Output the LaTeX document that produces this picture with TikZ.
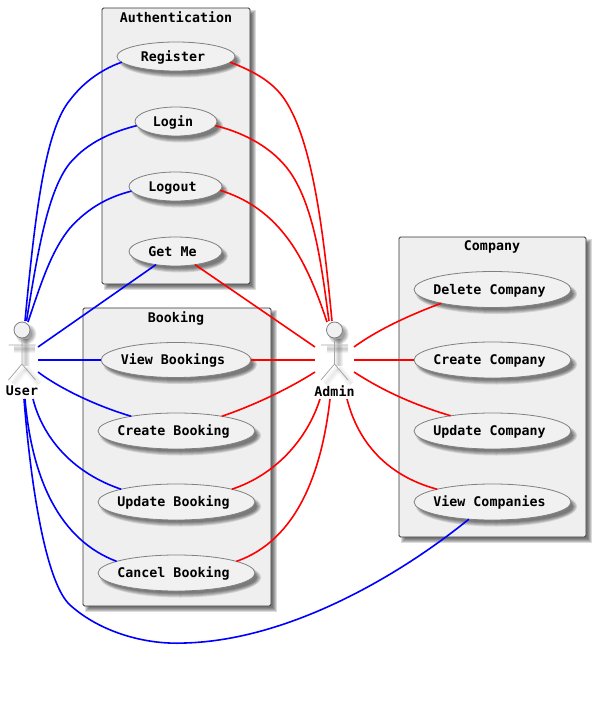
\documentclass[tikz,border=0pt]{standalone}
\usepackage{fontspec}
\usetikzlibrary{shapes.geometric}
\setmonofont{DejaVu Sans Mono}
\definecolor{boxgray}{HTML}{EFEFEF}
\definecolor{casegray}{HTML}{F1F1F1}
\newcommand{\lab}{\ttfamily\bfseries\fontsize{13.3pt}{15pt}\selectfont}
\tikzset{
  umlbox/.style={draw=black!80,fill=boxgray,line width=0.8pt,rounded corners=1.5pt},
  usecase/.style={ellipse,draw=black!50,fill=casegray,line width=0.8pt,inner sep=0pt,outer sep=0pt,font=\lab,text height=9pt,text depth=0pt},
  title/.style={font=\lab,inner sep=0pt},
  blueedge/.style={draw=blue,line width=1.6pt},
  rededge/.style={draw=red,line width=1.6pt},
  actorline/.style={draw=black!35,line width=0.8pt},
}
\newcommand{\softrect}[4]{%
  \foreach \s in {-2,-1,0,1,2}{
    \fill[black,opacity=.14] ({#1+4-\s},{#2+4-\s}) rectangle ({#3+4+\s},{#4+4+\s});
  }}
\newcommand{\softell}[4]{%
  \foreach \s in {-2,-1,0,1,2}{
    \fill[black,opacity=.12] ({#1+4},{#2+4.5}) ellipse [x radius={(#3+\s)*1pt},y radius={(#4+\s)*1pt}];
  }}
\newcommand{\ucase}[6]{% name,cx,cy,rx,ry,text
  \softell{#2}{#3}{#4}{#5}
  \node[usecase,minimum width=#4*2pt,minimum height=#5*2pt] (#1) at (#2,#3) {\kern-6pt #6};}
\newcommand{\actor}[3]{% name,x,label-text
  \foreach \s in {1,2,3,4}{
    \draw[black,opacity=.05,line width={(2*\s)*1pt}] ({#2+4},{339}) -- ({#2+4},{366});
    \draw[black,opacity=.05,line width={(2*\s)*1pt}] ({#2-8},{349}) -- ({#2+13},{349});
    \draw[black,opacity=.02,line width={(2*\s)*1pt}] ({#2+4},{368}) -- ({#2-9},{384});
    \draw[black,opacity=.02,line width={(2*\s)*1pt}] ({#2+4},{368}) -- ({#2+17},{384});
    \fill[black,opacity=.11] ({#2+4},{334}) circle [radius={(5+\s*1.3)*1pt}];
  }
  \draw[actorline] (#2,337) -- (#2,364) ({#2-13.5},345) -- ({#2+13.5},345)
     ({#2-13.5},380) -- (#2,364) -- ({#2+13.5},380);
  \node[circle,draw=black!50,fill=casegray,line width=0.8pt,minimum size=16pt,inner sep=0pt,outer sep=0pt] (#1) at (#2,330) {};
  \node[title] (#1label) at (#2,391) {#3};}
\begin{document}
\begin{tikzpicture}[x=1pt,y=-1pt]
\useasboundingbox (0,0) rectangle (597,712);
% frames
\softrect{102}{8}{250}{284}
\softrect{83}{308}{271}{606}
\softrect{399}{237}{586}{537}
\draw[umlbox] (102,8) rectangle (250,284);
\draw[umlbox] (83,308) rectangle (271,606);
\draw[umlbox] (399,237) rectangle (586,537);
\node[title] (tauth) at (176,17) {Authentication};
\node[title] (tbook) at (176,318) {Booking};
\node[title] (tcomp) at (492,247) {Company};
% use cases
\ucase{reg}{176}{56.5}{59}{14.5}{Register}
\ucase{log}{176}{121.5}{41}{14.5}{Login}
\ucase{out}{175.5}{186.5}{46.5}{14.5}{Logout}
\ucase{get}{175.5}{251.5}{46.5}{14.5}{Get Me}
\ucase{vb}{176}{360}{75}{17.5}{View Bookings}
\ucase{cb}{176.5}{431}{78.5}{18}{Create Booking}
\ucase{ub}{176.5}{502}{78.5}{18}{Update Booking}
\ucase{xb}{176.5}{573}{78.5}{18}{Cancel Booking}
\ucase{dc}{492.5}{289.5}{78.5}{18}{Delete Company}
\ucase{cc}{492.5}{360}{78.5}{18}{Create Company}
\ucase{uc}{492.5}{431}{78.5}{18}{Update Company}
\ucase{vc}{492.5}{502}{78.5}{18}{View Companies}
% actors
\actor{user}{22}{User}
\actor{admin}{334.5}{Admin}
% free ends at actors
\coordinate (uT1) at (25,321); \coordinate (uT2) at (26.5,321); \coordinate (uT3) at (28,322);
\coordinate (uR1) at (38,347); \coordinate (uR2) at (38,360); \coordinate (uR3) at (38,372);
\coordinate (uB1) at (33,399); \coordinate (uB2) at (25,399); \coordinate (uB3) at (24,399);
\coordinate (aT1) at (332,321); \coordinate (aT2) at (329,321); \coordinate (aT3) at (327,322);
\coordinate (aL1) at (315,347); \coordinate (aL2) at (315,360); \coordinate (aL3) at (315,372);
\coordinate (aB1) at (320,399); \coordinate (aB2) at (330,399); \coordinate (aB3) at (347,399);
\coordinate (aR1) at (354,347); \coordinate (aR2) at (354,360); \coordinate (aR3) at (354,372);
% blue
\draw[blueedge] (uT1) .. controls (35,215) and (45,130) .. (70,100) .. controls (85,80) and (105,68) .. (reg.186);
\draw[blueedge] (uT2) .. controls (38,250) and (48,190) .. (70,163) .. controls (88,142) and (112,132) .. (log.186.5);
\draw[blueedge] (uT3) .. controls (42,280) and (52,250) .. (70,228) .. controls (88,208) and (108,197) .. (out.186);
\draw[blueedge] (uR1) -- (get.214.7);
\draw[blueedge] (uR2) -- (vb.west);
\draw[blueedge] (uR3) .. controls (55,385) and (90,404) .. (cb.162.6);
\draw[blueedge] (uB1) .. controls (42,435) and (70,472) .. (ub.167.4);
\draw[blueedge] (uB2) .. controls (32,480) and (60,540) .. (xb.169.6);
\draw[blueedge] (uB3) .. controls (32,500) and (48,585) .. (70,605) .. controls (100,632) and (145,645) .. (185,643) .. controls (290,640) and (400,575) .. (vc.216);
% red
\draw[rededge] (reg.-6) .. controls (250,70) and (272,80) .. (285,100) .. controls (315,145) and (325,250) .. (aT1);
\draw[rededge] (log.-6.5) .. controls (245,133) and (273,148) .. (290,172) .. controls (315,208) and (322,270) .. (aT2);
\draw[rededge] (out.-5.5) .. controls (245,198) and (267,212) .. (285,235) .. controls (305,260) and (318,295) .. (aT3);
\draw[rededge] (get.-34.7) -- (aL1);
\draw[rededge] (vb.east) -- (aL2);
\draw[rededge] (cb.18) .. controls (255,405) and (290,388) .. (aL3);
\draw[rededge] (ub.13) .. controls (275,475) and (307,440) .. (aB1);
\draw[rededge] (xb.11) .. controls (298,540) and (322,470) .. (aB2);
\draw[rededge] (aR1) .. controls (380,328) and (415,313) .. (dc.195.5);
\draw[rededge] (aR2) -- (cc.west);
\draw[rededge] (aR3) .. controls (385,392) and (415,405) .. (uc.160);
\draw[rededge] (aB3) .. controls (360,450) and (395,478) .. (vc.167);
\end{tikzpicture}
\end{document}
